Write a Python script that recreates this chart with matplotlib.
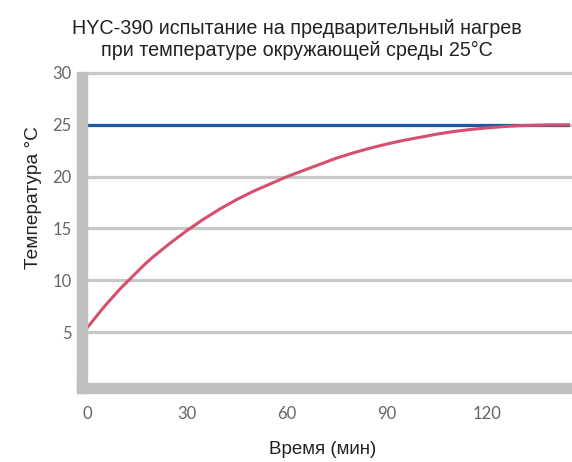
import matplotlib
matplotlib.use('Agg')
import matplotlib.pyplot as plt
from matplotlib.patches import Rectangle

# time (min) and heating curve
time_min = [0, 2.5, 5, 7.5, 10, 12.5, 15, 17.5, 20, 25, 30, 35, 40, 45, 50, 55, 60,
            65, 70, 75, 80, 85, 90, 95, 100, 105, 110, 115, 120, 125, 130, 135, 140, 145]
temp_c = [5.4, 6.4, 7.4, 8.3, 9.2, 10.0, 10.8, 11.6, 12.3, 13.6, 14.8, 15.9, 16.9,
          17.8, 18.6, 19.3, 20.0, 20.6, 21.2, 21.8, 22.3, 22.75, 23.15, 23.5, 23.8,
          24.1, 24.35, 24.55, 24.7, 24.83, 24.92, 24.97, 25.0, 25.0]
ambient = 25
x_ticks = [0, 30, 60, 90, 120]
y_ticks = [5, 10, 15, 20, 25, 30]

W, H = 572, 462
fig = plt.figure(figsize=(W / 100, H / 100), dpi=100)
ax = fig.add_axes([87 / W, (H - 384) / H, (570 - 87) / W, (384 - 73) / H])

ax.set_xlim(0, 145)
ax.set_ylim(0, 30)

for y in y_ticks:
    ax.axhline(y, color='#c8c8c8', lw=2.3, zorder=1, clip_on=False)

ax.axhline(ambient, color='#1f58a0', lw=2.3, zorder=3)
ax.plot(time_min, temp_c, color='#d6506d', lw=2.2, zorder=4)

for s in ax.spines.values():
    s.set_visible(False)

# thick grey frame on left and bottom
fig.patches.append(Rectangle((77 / W, (H - 393) / H), 10 / W, (393 - 72) / H,
                             transform=fig.transFigure, color='#c0c0c0', zorder=0))
fig.patches.append(Rectangle((77 / W, (H - 393) / H), (572 - 77) / W, 10 / H,
                             transform=fig.transFigure, color='#c0c0c0', zorder=0))

ax.set_xticks(x_ticks)
ax.set_yticks(y_ticks)
ax.tick_params(axis='both', length=0, colors='#666666', labelsize=12)
ax.tick_params(axis='y', pad=11)
ax.tick_params(axis='x', pad=16)
for lab in ax.get_xticklabels() + ax.get_yticklabels():
    lab.set_family('Lato')

fig.text(297 / W, 1 - 39.5 / H,
         'HYC-390 испытание на предварительный нагрев\nпри температуре окружающей среды 25°C',
         ha='center', va='center', fontsize=14.2, color='#222222',
         family='Liberation Sans', linespacing=1.17)
fig.text(323 / W, 1 - 450 / H, 'Время (мин)', ha='center', va='center',
         fontsize=13.5, color='#222222', family='Liberation Sans')
fig.text(33 / W, 1 - 198 / H, 'Температура °C', ha='center', va='center',
         rotation=90, fontsize=13.8, color='#222222', family='Liberation Sans')

fig.savefig('out.png', dpi=100)
